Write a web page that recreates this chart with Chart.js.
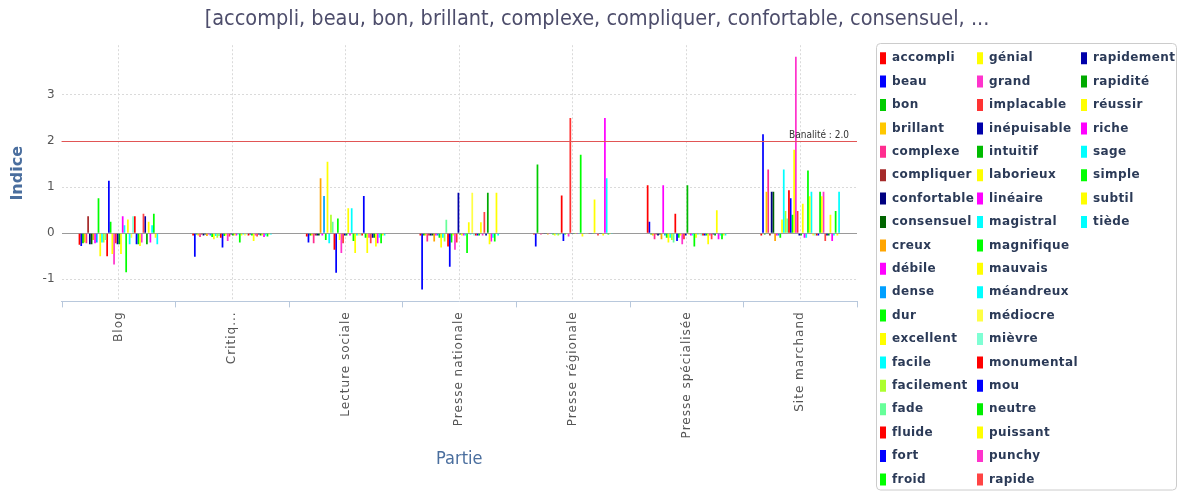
<!DOCTYPE html>
<html>
<head>
<meta charset="utf-8">
<script src="https://cdn.jsdelivr.net/npm/chart.js@4/dist/chart.umd.min.js"></script>
<style>
html,body{margin:0;padding:0;background:#ffffff;}
#wrap{width:1180px;height:495px;}
</style>
</head>
<body>
<div id="wrap"><canvas id="c" width="1180" height="495"></canvas></div>
<script>
// ---- data ----
const categories = ['Blog', 'Critiq...', 'Lecture sociale', 'Presse nationale', 'Presse régionale', 'Presse spécialisée', 'Site marchand'];

const seriesNames = ['accompli','beau','bon','brillant','complexe','compliquer','confortable','consensuel','creux','débile',
  'dense','dur','excellent','facile','facilement','fade','fluide','fort','froid','génial',
  'grand','implacable','inépuisable','intuitif','laborieux','linéaire','magistral','magnifique','mauvais','méandreux',
  'médiocre','mièvre','monumental','mou','neutre','puissant','punchy','rapide','rapidement','rapidité',
  'réussir','riche','sage','simple','subtil','tiède'];

const seriesColors = ['#FF0000','#0000FF','#00CC00','#FFC800','#FF2D8F','#A52A2A','#000080','#006400','#FFA500','#FF00FF',
  '#00A0FF','#00FF00','#FFFF00','#00FFFF','#ADFF2F','#66FF99','#FF0000','#0000FF','#00FF00','#FFFF00',
  '#FF33CC','#FF3333','#0000AA','#00BB00','#FFFF00','#FF00FF','#00FFFF','#00FF00','#FFFF00','#00FFFF',
  '#FFFF44','#7FFFD4','#FF0000','#0000FF','#00EE00','#FFFF00','#FF33CC','#FF4444','#0000AA','#00AA00',
  '#FFFF00','#FF00FF','#00FFFF','#00FF00','#FFFF00','#00FFFF'];

// values per category, in the order of seriesNames
const blog = [-0.25,-0.28,-0.22,-0.2,-0.22,0.37,-0.24,-0.24,-0.15,-0.22,
  -0.2,0.76,-0.5,-0.2,-0.2,-0.15,-0.5,1.14,0.25,-0.45,
  -0.68,-0.22,-0.24,-0.24,-0.45,0.37,0.17,-0.85,0.3,-0.24,
  -0.1,0.37,0.37,-0.24,-0.24,-0.28,-0.2,0.42,0.37,-0.24,
  0.25,-0.2,0.17,0.42,-0.1,-0.24];
const critiq = [-0.05,-0.51,-0.03,-0.05,-0.08,-0.03,-0.05,-0.03,-0.06,-0.03,
  -0.05,-0.08,-0.13,-0.06,-0.1,-0.06,-0.1,-0.31,-0.06,-0.05,
  -0.17,-0.07,-0.03,-0.05,-0.05,-0.05,-0.03,-0.2,-0.05,-0.03,
  -0.05,-0.03,-0.05,-0.03,-0.05,-0.17,-0.05,-0.07,-0.03,-0.05,
  -0.05,-0.08,-0.05,-0.07,-0.03,-0.03];
const lecture = [-0.07,-0.2,-0.05,-0.05,-0.22,-0.05,-0.05,-0.05,1.19,-0.05,
  0.81,-0.15,1.55,-0.22,0.4,0.25,-0.36,-0.86,0.32,-0.15,
  -0.43,-0.22,-0.05,-0.05,0.54,-0.05,0.54,-0.17,-0.43,-0.05,
  -0.05,-0.05,-0.05,0.81,-0.1,-0.43,-0.1,-0.22,-0.1,-0.1,
  -0.29,-0.22,-0.1,-0.22,-0.05,-0.05];
const nationale = [-0.05,-1.22,-0.05,-0.05,-0.18,-0.05,-0.05,-0.05,-0.18,-0.05,
  -0.05,-0.1,-0.31,-0.1,-0.18,0.29,-0.29,-0.73,-0.2,-0.05,
  -0.36,-0.2,0.88,-0.03,-0.05,-0.05,-0.05,-0.43,0.24,-0.03,
  0.88,-0.05,-0.05,-0.05,-0.05,0.24,-0.05,0.46,-0.05,0.88,
  -0.24,-0.18,-0.1,-0.18,0.88,-0.05];
const regionale = [-0.03,-0.29,1.49,-0.02,-0.03,-0.02,-0.02,-0.02,-0.03,-0.02,
  -0.02,-0.03,-0.05,-0.03,-0.05,-0.03,0.82,-0.17,-0.03,-0.02,
  -0.07,2.5,-0.02,-0.02,-0.02,-0.02,-0.02,1.7,-0.07,-0.02,
  -0.02,-0.02,-0.02,-0.02,-0.02,0.73,-0.02,-0.05,-0.02,-0.02,
  -0.05,2.5,1.19,-0.03,-0.02,-0.02];
const specialisee = [1.04,0.25,-0.03,-0.05,-0.13,-0.03,-0.05,-0.03,-0.13,1.04,
  -0.05,-0.1,-0.2,-0.1,-0.15,-0.2,0.42,-0.17,-0.1,-0.05,
  -0.24,-0.13,-0.05,1.04,-0.03,-0.05,-0.05,-0.29,-0.1,-0.03,
  -0.03,-0.05,-0.05,-0.05,-0.05,-0.24,-0.05,-0.13,-0.03,-0.05,
  0.5,-0.13,-0.05,-0.13,-0.05,-0.05];
const marchand = [-0.05,2.15,-0.03,0.9,1.38,-0.05,0.9,0.9,-0.17,-0.05,
  -0.05,-0.1,0.3,1.38,0.48,0.32,0.93,0.76,0.4,1.81,
  3.83,0.48,-0.05,-0.05,0.64,-0.1,-0.1,1.36,0.8,0.9,
  -0.05,-0.05,-0.05,-0.05,0.9,0.8,0.9,-0.17,-0.05,-0.05,
  0.4,-0.17,-0.05,0.48,-0.05,0.9];

const valuesByCategory = [blog, critiq, lecture, nationale, regionale, specialisee, marchand];
const yTicks = [-1, 0, 1, 2, 3];
const yRange = [-1.48, 4.08];
const banalite = 2.0;
const titleText = '[accompli, beau, bon, brillant, complexe, compliquer, confortable, consensuel, ...';

// ---- chart ----
Chart.defaults.font.family = "'DejaVu Sans', sans-serif";
const CONDENSED = "'DejaVu Sans Condensed', 'Liberation Sans Narrow', 'DejaVu Sans', sans-serif";

const datasets = seriesNames.map((name, i) => ({
  label: name,
  data: valuesByCategory.map(arr => arr[i]),
  backgroundColor: seriesColors[i],
  borderWidth: 0,
  categoryPercentage: 0.7,
  barPercentage: 1.0
}));

function spacedCall(ctx, sp, fn) {
  const prev = ctx.letterSpacing;
  try { ctx.letterSpacing = sp; } catch (e) {}
  try { return fn(); } finally { try { ctx.letterSpacing = prev; } catch (e) {} }
}

const LEGEND_WIDTH = 323;
const LEGEND_SHIFT = 11.6;
const LEGEND_DROP = 2;
const LEGEND_COL_X = [880, 977, 1081];
const LEGEND_SPACING = '0.4px';
const TITLE_SHIFT = 7;

const decor = {
  id: 'decor',
  beforeLayout(chart) {
    if (chart.$decorWrapped) return;
    chart.$decorWrapped = true;
    const lg = chart.legend;
    const fit0 = lg.fit;
    lg.fit = function () {
      spacedCall(this.ctx, LEGEND_SPACING, () => fit0.call(this));
      const pad = this.options.labels.padding;
      if (this.columnSizes) {
        for (let k = 0; k < LEGEND_COL_X.length - 1 && k < this.columnSizes.length; k++) {
          this.columnSizes[k].width = LEGEND_COL_X[k + 1] - LEGEND_COL_X[k] - pad;
        }
      }
      this.width = LEGEND_WIDTH;
    };
    const draw0 = lg.draw;
    lg.draw = function () {
      const a = arguments;
      spacedCall(this.ctx, LEGEND_SPACING, () => draw0.apply(this, a));
    };
    const xs = chart.scales.x;
    const up0 = xs.update;
    xs.update = function () {
      const a = arguments;
      return spacedCall(this.ctx, '1px', () => up0.apply(this, a));
    };
    const dl0 = xs.drawLabels;
    xs.drawLabels = function () {
      const a = arguments;
      spacedCall(this.ctx, '1px', () => dl0.apply(this, a));
    };
  },
  afterLayout(chart) {
    const lg = chart.legend;
    lg.left += LEGEND_SHIFT;
    lg.right += LEGEND_SHIFT;
    lg.top += LEGEND_DROP;
    lg.bottom += LEGEND_DROP;
    const tb = chart.titleBlock;
    if (tb) { tb.left += TITLE_SHIFT; tb.right += TITLE_SHIFT; }
  },
  afterDatasetsDraw(chart) {
    const {ctx, chartArea, scales} = chart;
    const y = Math.round(scales.y.getPixelForValue(banalite)) + 0.5;
    ctx.save();
    ctx.strokeStyle = 'rgb(225, 85, 85)';
    ctx.lineWidth = 1;
    ctx.setLineDash([]);
    ctx.beginPath();
    ctx.moveTo(chartArea.left, y);
    ctx.lineTo(chartArea.right, y);
    ctx.stroke();
    ctx.fillStyle = '#333333';
    ctx.font = "10px " + CONDENSED;
    ctx.textAlign = 'right';
    ctx.textBaseline = 'alphabetic';
    ctx.fillText('Banalité : ' + banalite.toFixed(1), chartArea.right - 8, y - 4);
    ctx.restore();
  },
  afterDraw(chart) {
    const {ctx, chartArea, scales} = chart;
    const xs = scales.x;
    ctx.save();
    ctx.strokeStyle = '#B8C8DC';
    ctx.lineWidth = 1;
    ctx.beginPath();
    for (let i = 0; i <= categories.length; i++) {
      const px = Math.round(xs.getPixelForValue(i - 0.5)) + 0.5;
      ctx.moveTo(px, chartArea.bottom);
      ctx.lineTo(px, chartArea.bottom + 6);
    }
    ctx.stroke();
    // legend frame
    const lg = chart.legend;
    const x0 = Math.round(lg.left + 7) + 0.5;
    const y0 = 43.5;
    const w = 1176.5 - x0;
    const h = 490 - y0;
    ctx.strokeStyle = '#CCCCCC';
    ctx.beginPath();
    if (ctx.roundRect) ctx.roundRect(x0, y0, w, h, 4); else ctx.rect(x0, y0, w, h);
    ctx.stroke();
    ctx.restore();
  }
};

new Chart(document.getElementById('c'), {
  type: 'bar',
  data: { labels: categories, datasets },
  plugins: [decor],
  options: {
    responsive: false,
    animation: false,
    devicePixelRatio: 1,
    layout: { padding: 0 },
    plugins: {
      title: {
        display: true,
        text: titleText,
        color: '#4D4D6B',
        font: { family: CONDENSED, size: 21.5, weight: 'normal' },
        padding: { top: 7, bottom: 12.4 }
      },
      legend: {
        display: true,
        position: 'right',
        align: 'start',
        title: { display: true, text: '', font: { size: 10 }, padding: { top: 13.4, bottom: 13.4 } },
        labels: {
          boxWidth: 6,
          boxHeight: 12,
          padding: 11.4,
          color: '#2B3A57',
          font: { size: 12, weight: 'bold' }
        }
      },
      tooltip: { enabled: false }
    },
    scales: {
      x: {
        grid: { display: true, offset: false, drawTicks: false, color: '#DADADA', lineWidth: 1 },
        border: { display: true, color: '#B8C8DC', width: 1, dash: [2, 2] },
        ticks: { autoSkip: false, minRotation: 90, maxRotation: 90, padding: 10, color: '#555555', font: { size: 12 } },
        title: {
          display: true,
          text: 'Partie',
          color: '#4A6E9E',
          font: { family: CONDENSED, size: 18 },
          padding: { top: 0, bottom: 25 }
        }
      },
      y: {
        min: yRange[0],
        max: yRange[1],
        bounds: 'data',
        afterBuildTicks: (s) => { s.ticks = yTicks.map(v => ({ value: v })); },
        grid: {
          drawTicks: false,
          color: (c) => {
            if (!c.tick) return '#DADADA';
            if (c.tick.value === 0) return '#9A9A9A';
            if (c.tick.value === banalite) return 'rgba(0,0,0,0)';
            return '#DADADA';
          },
          lineWidth: 1
        },
        border: { display: false, dash: (c) => (c.tick && c.tick.value === 0) ? [] : [2, 2] },
        ticks: { color: '#555555', font: { size: 12 }, padding: 7 },
        title: {
          display: true,
          text: 'Indice',
          color: '#4A6E9E',
          font: { size: 16, weight: 'bold' },
          padding: { top: 8, bottom: 8.4 }
        }
      }
    }
  }
});
</script>
</body>
</html>
